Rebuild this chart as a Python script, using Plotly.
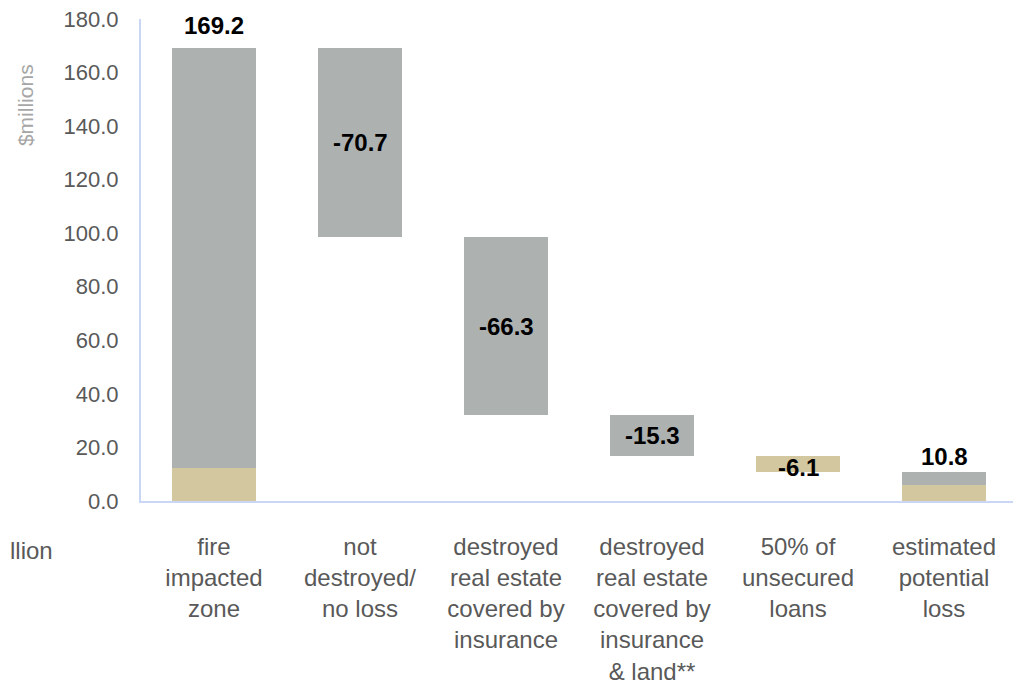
import plotly.graph_objects as go

categories = ["fire<br>impacted<br>zone", "not<br>destroyed/<br>no loss",
              "destroyed<br>real estate<br>covered by<br>insurance",
              "destroyed<br>real estate<br>covered by<br>insurance<br>& land**",
              "50% of<br>unsecured<br>loans", "estimated<br>potential<br>loss"]
base = [0, 98.5, 32.2, 16.9, 10.8, 0]
tan = [12.2, 0, 0, 0, 6.1, 6.1]
gray = [157.0, 70.7, 66.3, 15.3, 0, 4.7]
labels = ["169.2", "-70.7", "-66.3", "-15.3", "-6.1", "10.8"]

GRAY = "#adb1b0"
TAN = "#d3c7a0"
FONT = "Liberation Sans, Arial, sans-serif"

x = list(range(len(categories)))

fig = go.Figure()
fig.add_trace(go.Bar(x=x, y=base, marker_color="rgba(0,0,0,0)", marker_line_width=0,
                     hoverinfo="skip", showlegend=False))
fig.add_trace(go.Bar(x=x, y=tan, marker_color=TAN, marker_line_width=0, showlegend=False))
fig.add_trace(go.Bar(x=x, y=gray, marker_color=GRAY, marker_line_width=0, showlegend=False))

# data labels: totals above, changes in the middle of the floating bar
for i, lab in enumerate(labels):
    top = base[i] + tan[i] + gray[i]
    if i == 0 or i == len(labels) - 1:
        fig.add_annotation(x=i, y=top, text="<b>%s</b>" % lab, showarrow=False,
                           yanchor="bottom", yshift=7 if i == 0 else 0,
                           font=dict(size=24, color="black", family=FONT))
    else:
        fig.add_annotation(x=i, y=base[i] + (tan[i] + gray[i]) / 2, text="<b>%s</b>" % lab,
                           showarrow=False, yshift=-4 if i == 4 else 0,
                           font=dict(size=24, color="black", family=FONT))

fig.add_annotation(xref="paper", yref="y", x=-0.132, y=148, text="$millions", textangle=-90,
                   xanchor="center", yanchor="middle", showarrow=False,
                   font=dict(size=21, color="#a6a6a6", family=FONT))
fig.add_annotation(xref="paper", yref="paper", x=-0.1518, y=-0.102, text="llion",
                   xanchor="left", yanchor="middle", showarrow=False,
                   font=dict(size=24, color="#595959", family=FONT))

fig.update_layout(
    barmode="stack", bargap=0.425,
    width=1021, height=684,
    margin=dict(l=133, r=12, t=11, b=191),
    plot_bgcolor="white", paper_bgcolor="white",
    font=dict(family=FONT, color="#595959"),
    xaxis=dict(tickmode="array", tickvals=x, ticktext=categories, range=[-0.5, 5.5],
               showline=True, linecolor="#c9d7f5", linewidth=2, showgrid=False,
               automargin=False, ticks="", tickfont=dict(size=24, color="#595959"),
               ticklabelstandoff=23),
    yaxis=dict(range=[0, 180], dtick=20, tickformat=".1f", showline=True,
               linecolor="#c9d7f5", linewidth=2, showgrid=False, zeroline=False,
               automargin=False, ticklabeloverflow="allow", ticks="",
               tickfont=dict(size=22, color="#595959"), ticklabelstandoff=16),
)

fig.write_html("out.html")
